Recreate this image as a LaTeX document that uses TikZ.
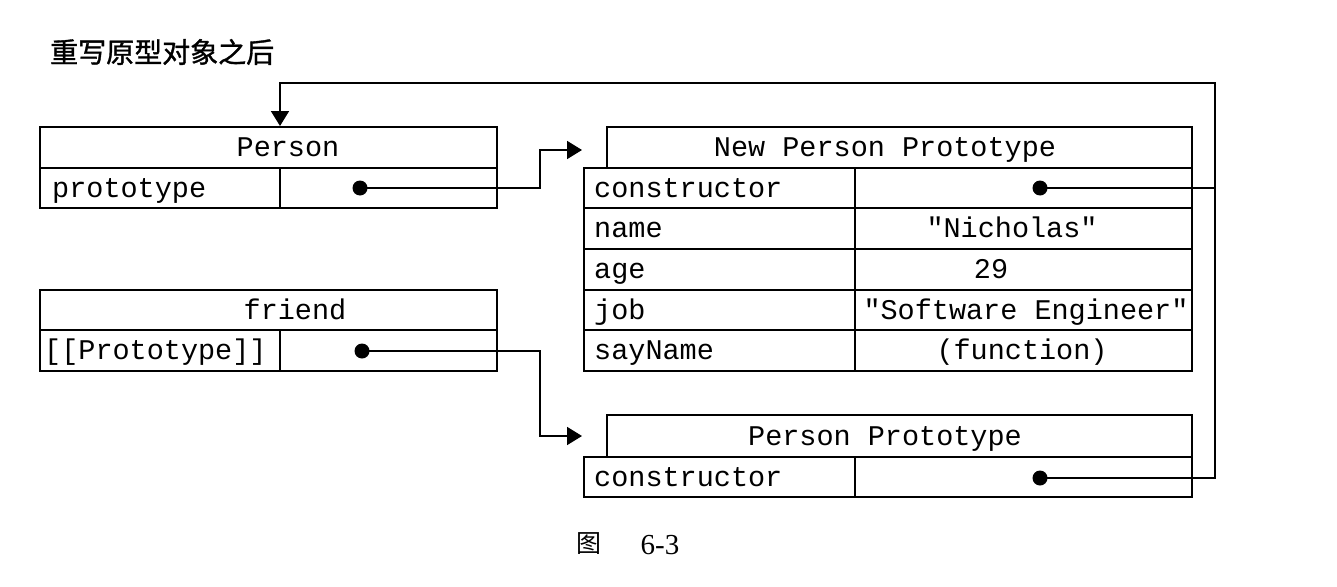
\documentclass[tikz,border=0pt]{standalone}
\usepackage{fontspec}
\setmainfont{Liberation Serif}
\setmonofont{Liberation Mono}
\newfontfamily\cjk{Noto Sans CJK SC}
\newfontfamily\cjktitle[FakeBold=1.2]{Noto Sans CJK SC}
\usetikzlibrary{arrows.meta}
\begin{document}
\begin{tikzpicture}[x=1pt,y=-1pt,
    cell/.style={draw=black,line width=1.8pt,inner sep=0pt,minimum height=40.6pt},
    txt/.style={inner sep=0pt,font=\ttfamily\fontsize{28.5}{30}\selectfont,text height=22pt,text depth=4pt},
    dot/.style={circle,fill=black,inner sep=0pt,minimum size=15pt},
    wire/.style={line width=1.8pt},
    link/.style={wire,-{Triangle[length=15pt,width=18pt]}}]
    \useasboundingbox (0,0) rectangle (1337,586);

    % title and caption
    \node[anchor=west,inner sep=0pt,font=\cjktitle\fontsize{28}{30}\selectfont] (title) at (50,52) {重写原型对象之后};
    \node[inner sep=0pt,font=\cjk\fontsize{25}{28}\selectfont] (figword) at (589,544) {图};
    \node[inner sep=0pt,font=\fontsize{29}{30}\selectfont] (fignum) at (660,545) {6-3};

    % Person
    \node[cell,minimum width=457pt] (personhead) at (268.5,147.5) {};
    \node[cell,minimum width=240pt] (personkey) at (160,188) {};
    \node[cell,minimum width=217pt] (personval) at (388.5,188) {};
    \node[txt] (personname) at (288,147.5) {Person};
    \node[txt,anchor=west] (personprop) at (52,188) {prototype};
    \node[dot] (persondot) at (360,188) {};

    % friend
    \node[cell,minimum width=457pt] (friendhead) at (268.5,310) {};
    \node[cell,minimum width=240pt] (friendkey) at (160,350.5) {};
    \node[cell,minimum width=217pt] (friendval) at (388.5,350.5) {};
    \node[txt] (friendname) at (295,310) {friend};
    \node[txt,anchor=west] (friendprop) at (44,350.5) {[[Prototype]]};
    \node[dot] (frienddot) at (362,351) {};

    % New Person Prototype
    \node[cell,minimum width=585pt] (npphead) at (899.5,147.5) {};
    \node[txt] (nppname) at (885,147.5) {New Person Prototype};
    \foreach \y/\k/\v/\vx [count=\i] in {188/constructor//1023, 228.5/name/"Nicholas"/1012,
        269.5/age/29/991, 310/job/"Software Engineer"/1026, 350.5/sayName/(function)/1022} {
        \node[cell,minimum width=271pt] (nppkey\i) at (719.5,\y) {};
        \node[cell,minimum width=337pt] (nppval\i) at (1023.5,\y) {};
        \node[txt,anchor=west] (nppprop\i) at (594,\y) {\k};
        \node[txt] (nppvalue\i) at (\vx,\y) {\v};
    }
    \node[dot] (nppdot) at (1040,188) {};

    % Person Prototype
    \node[cell,minimum width=585pt,minimum height=42pt] (pphead) at (899.5,436) {};
    \node[cell,minimum width=271pt] (ppkey) at (719.5,477) {};
    \node[cell,minimum width=337pt] (ppval) at (1023.5,477) {};
    \node[txt] (ppname) at (885,436) {Person Prototype};
    \node[txt,anchor=west] (ppprop) at (594,477) {constructor};
    \node[dot] (ppdot) at (1040,478) {};

    % connectors
    \coordinate (nppin) at (582,150);
    \coordinate (ppin) at (582,436);
    \coordinate (personin) at (280,126);
    \draw[link] (persondot.center) -| (540,150) -- (nppin);
    \draw[link] (frienddot.center) -| (540,436) -- (ppin);
    \draw[link] (nppdot.center) -| (1215,83) -| (personin);
    \draw[wire] (ppdot.center) -| (1215,83);
\end{tikzpicture}
\end{document}
